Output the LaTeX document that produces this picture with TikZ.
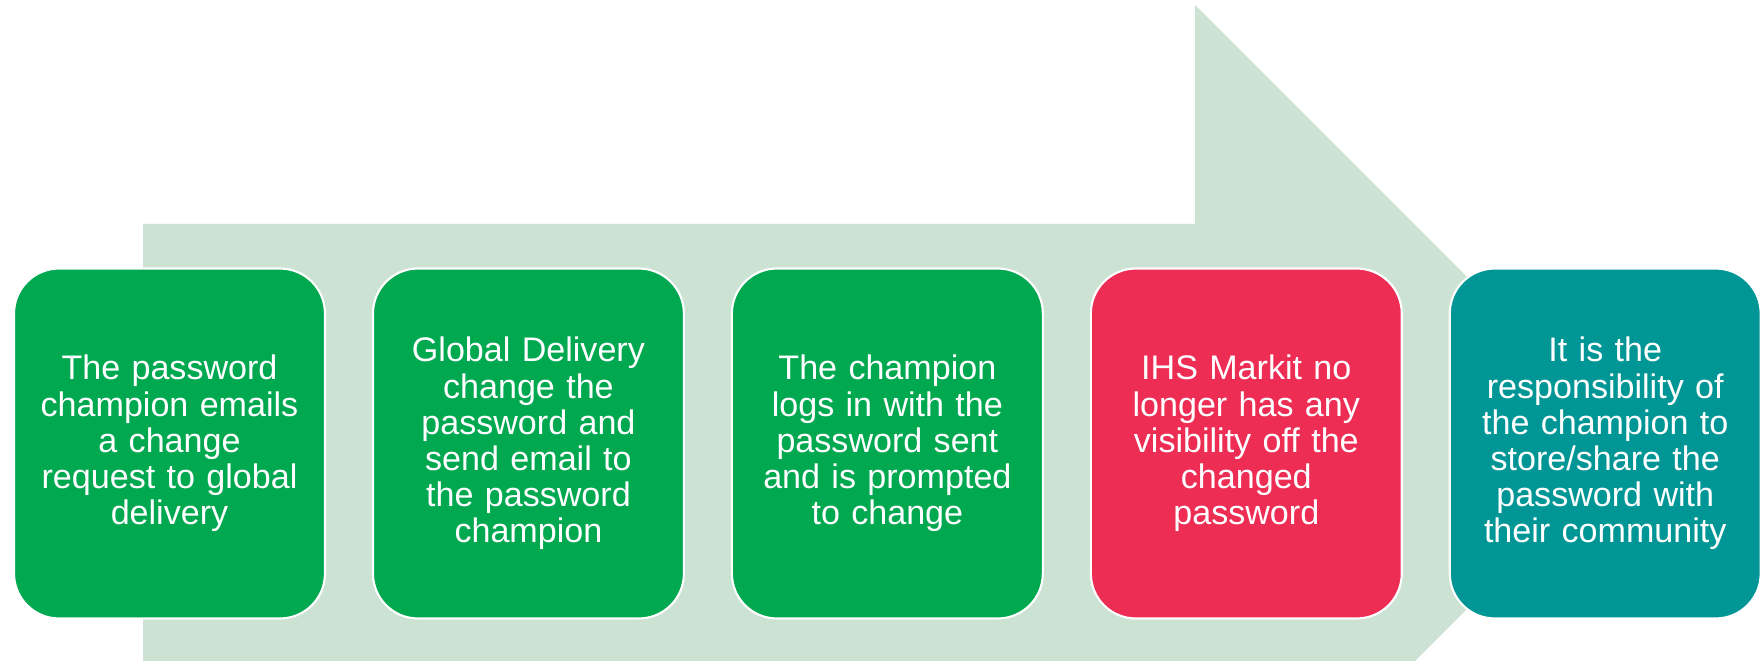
\documentclass[tikz,border=0pt]{standalone}
\usepackage{fontspec}
\setmainfont{Liberation Sans}
\definecolor{stepgreen}{RGB}{0,168,80}
\definecolor{stepred}{RGB}{238,45,85}
\definecolor{stepteal}{RGB}{0,150,150}
\definecolor{arrowgreen}{RGB}{204,226,211}

\begin{document}
\begin{tikzpicture}[x=0.02cm,y=-0.02cm,node distance=7.18cm,
  step node/.style={rounded corners=0.9cm,draw=white,line width=1.2pt,
  minimum width=6.22cm,minimum height=7cm,text width=5.9cm,align=center,
  text=white,font=\fontsize{19.4}{20.6}\selectfont}]

  \clip (0,0) rectangle (1764,661);
  % big arrow behind the steps
  \fill[arrowgreen] (143,224) -- (1195,224) -- (1195,5) -- (1633,443)
    -- (1195,881) -- (1195,662) -- (143,662) -- cycle;

  \node[step node,fill=stepgreen] (email) at (169.5,443.5)
    {The password\\champion emails\\a change\\request to global\\delivery};
  \node[step node,fill=stepgreen] (change) [right of=email]
    {Global Delivery\\change the\\password and\\send email to\\the password\\champion};
  \node[step node,fill=stepgreen] (login) [right of=change]
    {The champion\\logs in with the\\password sent\\and is prompted\\to change};
  \node[step node,fill=stepred] (nosee) [right of=login]
    {IHS Markit no\\longer has any\\visibility off the\\changed\\password};
  \node[step node,fill=stepteal] (share) [right of=nosee]
    {It is the\\responsibility of\\the champion to\\store/share the\\password with\\their community};
\end{tikzpicture}
\end{document}
